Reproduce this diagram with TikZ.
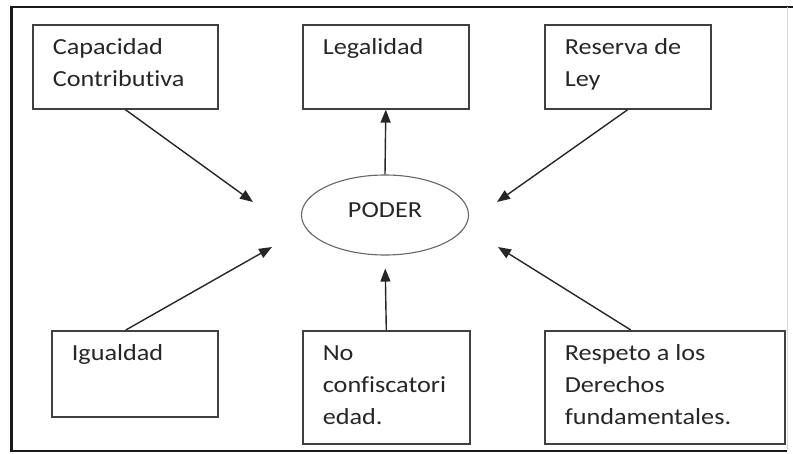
\documentclass[tikz,border=0pt]{standalone}
\usepackage{fontspec}
\setmainfont[FakeStretch=1.14,Ligatures=NoCommon]{Carlito}
\usetikzlibrary{arrows.meta,shapes.geometric}

\newcommand{\cajatxt}[3]{\parbox[c][#2][t]{#1}{\raggedright\leftskip=20pt\rule{0pt}{29.5pt}#3}}

\begin{document}
\begin{tikzpicture}[x=1pt,y=-1pt,
  font=\fontsize{23}{32}\selectfont,
  caja/.style={draw=black!75,line width=1.6pt,inner sep=0pt,anchor=north west,text=black!85},
  elipse/.style={ellipse,draw=black!60,line width=1.1pt,minimum width=167pt,minimum height=80pt,inner sep=0pt,text depth=10pt,text=black!85},
  flecha/.style={-{Triangle[length=13pt,width=10pt]},line width=1.4pt,draw=black!85},
  marco/.style={line width=2.5pt,black!90}]
\useasboundingbox (0,0) rectangle (793,453);
\draw[marco] (793,7) -- (11.5,7) -- (11.5,451) -- (787,451);
\draw[black!15,line width=1pt] (787,7) -- (787,451);

\node[caja] (cap) at (32,24) {\cajatxt{185pt}{84pt}{Capacidad\\Contributiva}};
\node[caja] (leg) at (302,24) {\cajatxt{166pt}{84pt}{Legalidad}};
\node[caja] (res) at (544,24) {\cajatxt{166pt}{84pt}{Reserva de\\Ley}};
\node[caja] (igu) at (51,330) {\cajatxt{166pt}{86pt}{Igualdad}};
\node[caja] (noc) at (302,330) {\cajatxt{167pt}{113pt}{No\\confiscatori\\edad.}};
\node[caja] (der) at (544,330) {\cajatxt{240pt}{113pt}{Respeto a los\\Derechos\\fundamentales.}};

\node[elipse] (poder) at (385,215) {PODER};

\coordinate (pCap) at (253,202);
\coordinate (pRes) at (497,202);
\coordinate (pIgu) at (272,247);
\coordinate (pDer) at (498,247);

\draw[flecha] (cap.south) -- (pCap);
\draw[flecha] (poder.north) -- (leg.south);
\draw[flecha] (res.south) -- (pRes);
\draw[flecha] ([xshift=-9pt]igu.north) -- (pIgu);
\draw[flecha,shorten >=13pt] (noc.north) -- (poder.south);
\draw[flecha] ([xshift=-34pt]der.north) -- (pDer);
\end{tikzpicture}
\end{document}
